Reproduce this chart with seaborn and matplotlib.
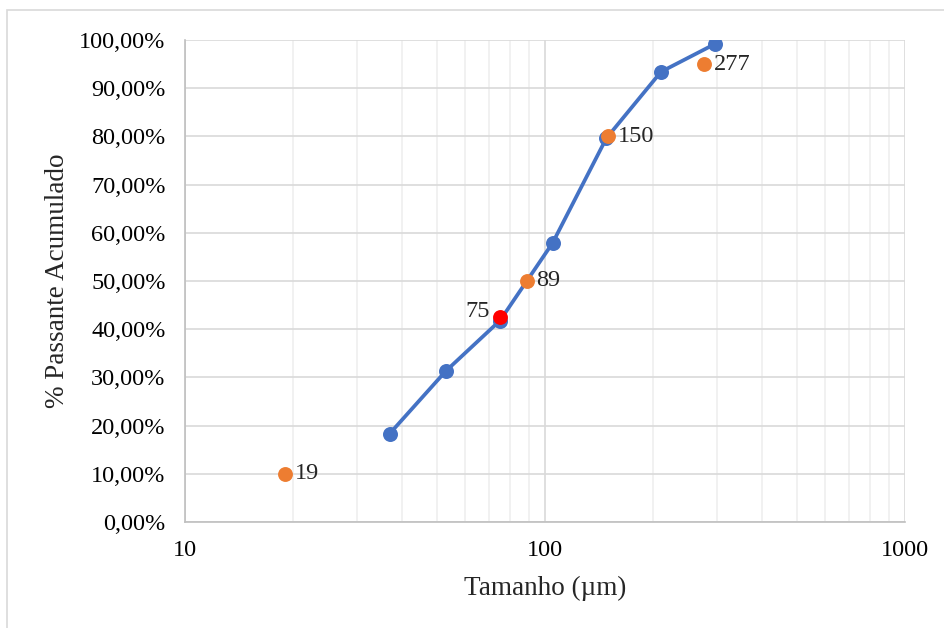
import matplotlib
matplotlib.use('Agg')
import matplotlib.pyplot as plt
import matplotlib.ticker as mticker
from matplotlib.patches import Rectangle
import seaborn as sns
import pandas as pd

# Curve (sieve sizes and cumulative passing)
curve_size = [37, 53, 75, 105, 148, 210, 297]
curve_pass = [18.3, 31.3, 41.8, 57.9, 79.6, 93.4, 99.2]

# Characteristic sizes (D10, D50, D80, D95)
d_size = [19, 89, 150, 277]
d_pass = [10.0, 50.0, 80.0, 95.0]
d_labels = ['19', '89', '150', '277']

# Highlighted point
red_size = [75]
red_pass = [42.5]
red_label = ['75']

sns.set_style('white')
plt.rcParams['font.family'] = ['Liberation Serif', 'DejaVu Serif']

fig = plt.figure(figsize=(9.44, 6.28), dpi=100)
ax = fig.add_axes([185 / 944, 106 / 628, 720 / 944, 482 / 628])

# light chart-area border
fig.patches.append(Rectangle((7 / 944, -0.1), 1.2, 0.1 + (628 - 10) / 628,
                             transform=fig.transFigure, fill=False,
                             edgecolor='#d9d9d9', linewidth=1.2))

df_curve = pd.DataFrame({'size': curve_size, 'pass': curve_pass})
df_d = pd.DataFrame({'size': d_size, 'pass': d_pass})
df_red = pd.DataFrame({'size': red_size, 'pass': red_pass})

sns.lineplot(data=df_curve, x='size', y='pass', ax=ax, color='#4472C4',
             linewidth=2.7, marker='o', markersize=10.8,
             markeredgewidth=0, zorder=3)
sns.scatterplot(data=df_d, x='size', y='pass', ax=ax, color='#ED7D31',
                s=115, linewidth=0, zorder=4)
sns.scatterplot(data=df_red, x='size', y='pass', ax=ax, color='#FF0000',
                s=115, linewidth=0, zorder=5)

for x, y, t in zip(d_size, d_pass, d_labels):
    ax.annotate(t, (x, y), xytext=(7, 0), textcoords='offset points',
                va='center', ha='left', fontsize=17.5)
for x, y, t in zip(red_size, red_pass, red_label):
    ax.annotate(t, (x, y), xytext=(-7, 4), textcoords='offset points',
                va='center', ha='right', fontsize=17.5)

ax.set_xscale('log')
ax.set_xlim(10, 1000)
ax.set_ylim(0, 100)
ax.xaxis.set_major_locator(mticker.LogLocator(base=10))
ax.xaxis.set_minor_locator(mticker.LogLocator(base=10, subs=range(2, 10)))
ax.xaxis.set_major_formatter(mticker.FuncFormatter(lambda v, p: f'{v:.0f}'))
ax.xaxis.set_minor_formatter(mticker.NullFormatter())
ax.yaxis.set_major_locator(mticker.MultipleLocator(10))
ax.yaxis.set_major_formatter(
    mticker.FuncFormatter(lambda v, p: f'{v:.2f}'.replace('.', ',') + '%'))

ax.grid(which='major', color='#d9d9d9', linewidth=1.2)
ax.grid(which='minor', axis='x', color='#efefef', linewidth=1.2)
ax.set_axisbelow(True)
for side in ['top', 'right']:
    ax.spines[side].set_visible(False)
for side in ['left', 'bottom']:
    ax.spines[side].set_color('#bfbfbf')
    ax.spines[side].set_linewidth(1.2)

ax.tick_params(axis='both', which='both', length=0, labelsize=17.5,
               colors='black')
ax.tick_params(axis='y', pad=14)
ax.tick_params(axis='x', pad=13)

ax.set_xlabel('Tamanho (µm)', fontsize=19.5)
ax.set_ylabel('% Passante Acumulado', fontsize=19.5)
ax.xaxis.set_label_coords(0.5, -0.112)
ax.yaxis.set_label_coords(-0.16, 0.5)

fig.savefig('out.png', dpi=100)
